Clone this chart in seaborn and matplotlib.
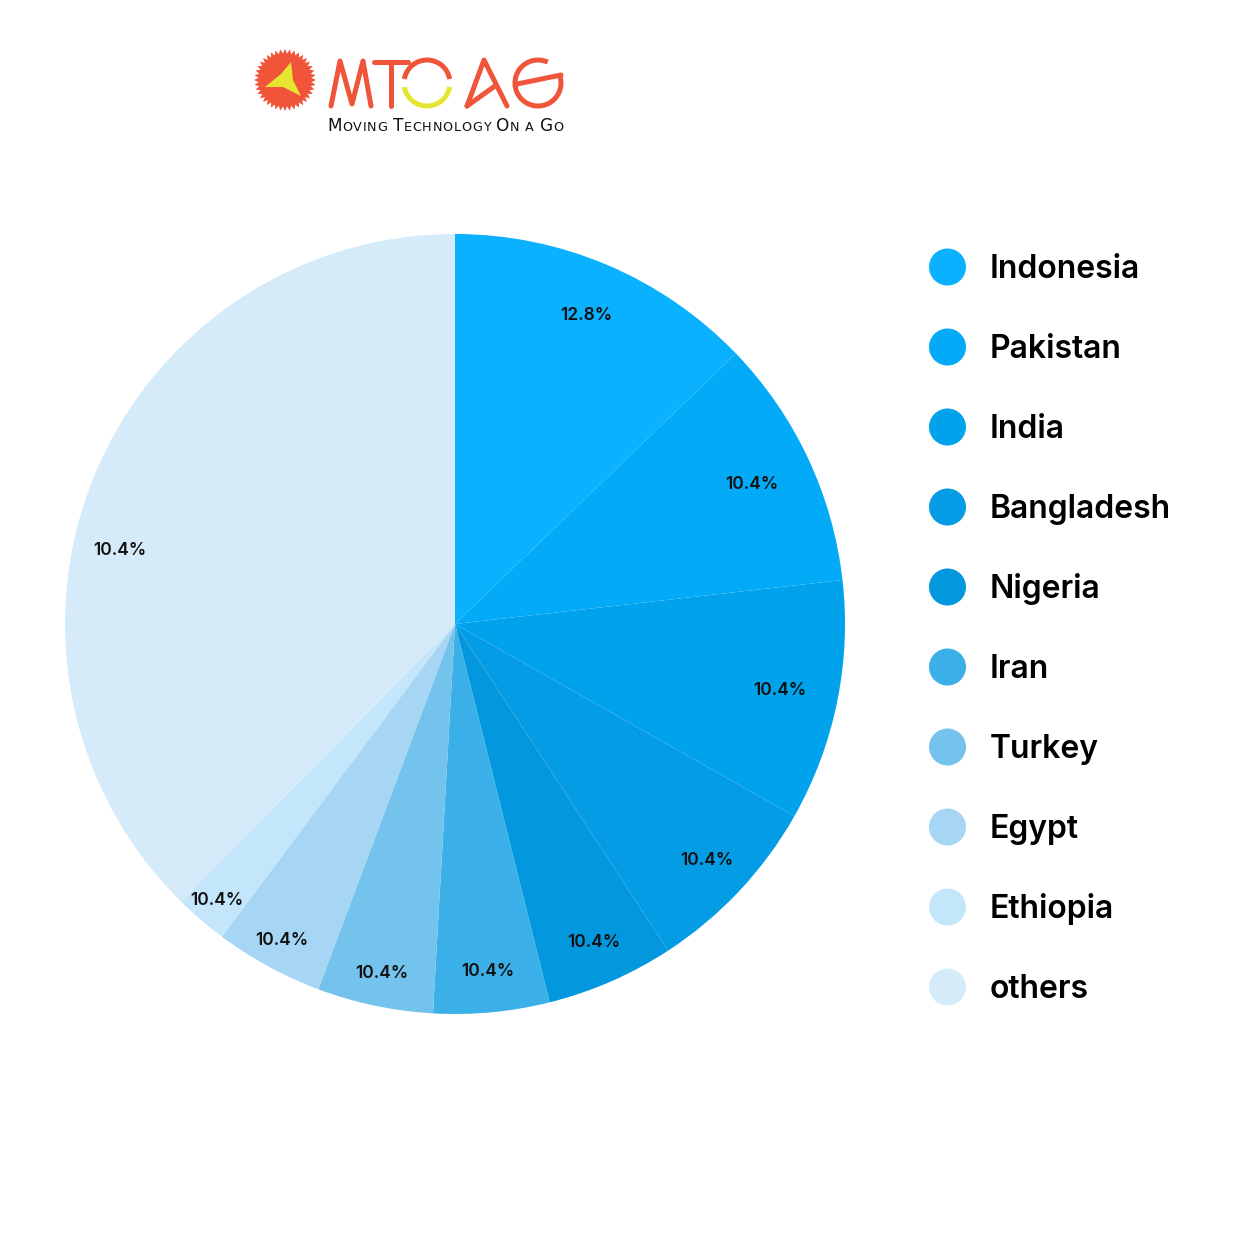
import numpy as np
import matplotlib
matplotlib.use("Agg")
import matplotlib.pyplot as plt
import seaborn as sns
from matplotlib.patches import Circle, Polygon, Arc
from matplotlib.lines import Line2D

# ---- data ----
countries = ["Indonesia", "Pakistan", "India", "Bangladesh", "Nigeria",
             "Iran", "Turkey", "Egypt", "Ethiopia", "others"]
shares = [12.8, 10.4, 10.0, 7.6, 5.3, 4.8, 4.8, 4.5, 2.2, 37.6]
pct_labels = ["12.8%", "10.4%", "10.4%", "10.4%", "10.4%",
              "10.4%", "10.4%", "10.4%", "10.4%", "10.4%"]
colors = ["#09B1FF", "#02AAF8", "#01A2EC", "#049CE4", "#0397DD",
          "#3BAFE7", "#74C3EC", "#A6D6F4", "#C4E6FA", "#D5EBFA"]
tagline = "Moving Technology On a Go"

# label placement style (radius as fraction of pie radius, angular shift in degrees)
label_radius = [0.86, 0.84, 0.85, 0.885, 0.89, 0.895, 0.915, 0.925, 0.935, 0.88]
label_shift = [0, 0, 0, 0, 0, 0, 0, 0, 0, 10]

sns.set_theme(style="white")
plt.rcParams['font.family'] = ['Inter', 'DejaVu Sans']

W = 1250
fig = plt.figure(figsize=(12.5, 12.5), dpi=100)
fig.patch.set_facecolor("white")

# ---- pie ----
cx, cy, R = 455, 624, 390
ax = fig.add_axes([(cx - R) / W, 1 - (cy + R) / W, 2 * R / W, 2 * R / W])
wedges, _ = ax.pie(shares, colors=colors, startangle=90, counterclock=False,
                   radius=1, wedgeprops=dict(linewidth=0, edgecolor="none"))
ax.set_xlim(-1, 1)
ax.set_ylim(-1, 1)
ax.set_aspect("equal")
ax.axis("off")
for w, lab, r, sh in zip(wedges, pct_labels, label_radius, label_shift):
    ang = np.deg2rad((w.theta1 + w.theta2) / 2 + sh)
    ax.text(r * np.cos(ang), r * np.sin(ang), lab, ha="center", va="center",
            fontsize=12.5, fontweight="semibold", color="#111111")

# ---- overlay in pixel coords ----
ov = fig.add_axes([0, 0, 1, 1])
ov.set_xlim(0, W)
ov.set_ylim(W, 0)
ov.axis("off")
ov.patch.set_alpha(0)

# legend
for i, (name, col) in enumerate(zip(countries, colors)):
    y = 267 + 80 * i
    ov.add_patch(Circle((947.5, y), 18.5, color=col, lw=0))
    ov.text(990, y + 11, name, ha="left", va="baseline", fontsize=23,
            fontweight="semibold", color="#000000")

# logo: sun
orange = "#F0553A"
yellow = "#E6E632"
n = 40
t = np.linspace(0, 2 * np.pi, 2 * n, endpoint=False)
rr = np.where(np.arange(2 * n) % 2 == 0, 31, 26.5)
sun = np.column_stack([285 + rr * np.cos(t), 80 + rr * np.sin(t)])
ov.add_patch(Polygon(sun, closed=True, color=orange, lw=0))
tri = np.array([[291, 62], [281, 74], [265, 87], [283, 87], [301, 96], [293, 80]])
ov.add_patch(Polygon(tri, closed=True, color=yellow, lw=0))

lw = 3.6
def seg(pts, col=orange):
    pts = np.array(pts)
    ov.add_line(Line2D(pts[:, 0], pts[:, 1], color=col, lw=lw,
                       solid_capstyle="round", solid_joinstyle="round"))

# M
seg([(331, 106), (340, 61), (352, 104), (363, 61), (371, 106)])
# T
seg([(374, 62), (408, 62)])
seg([(391, 62), (391, 106)])
# O
ov.add_patch(Arc((427, 83), 46, 46, theta1=190, theta2=350, color=orange, lw=lw))
ov.add_patch(Arc((427, 83), 46, 46, theta1=10, theta2=170, color=yellow, lw=lw))
# A
seg([(467, 106), (484, 60), (507, 106)])
seg([(467, 106), (495, 86)])
# G
ov.add_patch(Arc((538, 83), 46, 46, theta1=-15, theta2=295, color=orange, lw=lw))
seg([(517, 84), (561, 75)])

# tagline in small caps
fig.canvas.draw()
renderer = fig.canvas.get_renderer()
x = 327
inv = ov.transData.inverted()
for word in tagline.split(" "):
    for ch in word:
        big = ch.isupper()
        txt = ov.text(x, 131, ch.upper(), ha="left", va="baseline",
                      fontsize=12.2 if big else 9.2, color="#111111",
                      family=["DejaVu Sans"])
        bb = txt.get_window_extent(renderer)
        x0, _ = inv.transform((bb.x0, bb.y0))
        x1, _ = inv.transform((bb.x1, bb.y1))
        x += (x1 - x0) + 0.7
    x += 5

fig.savefig("out.png", dpi=100, facecolor="white")
